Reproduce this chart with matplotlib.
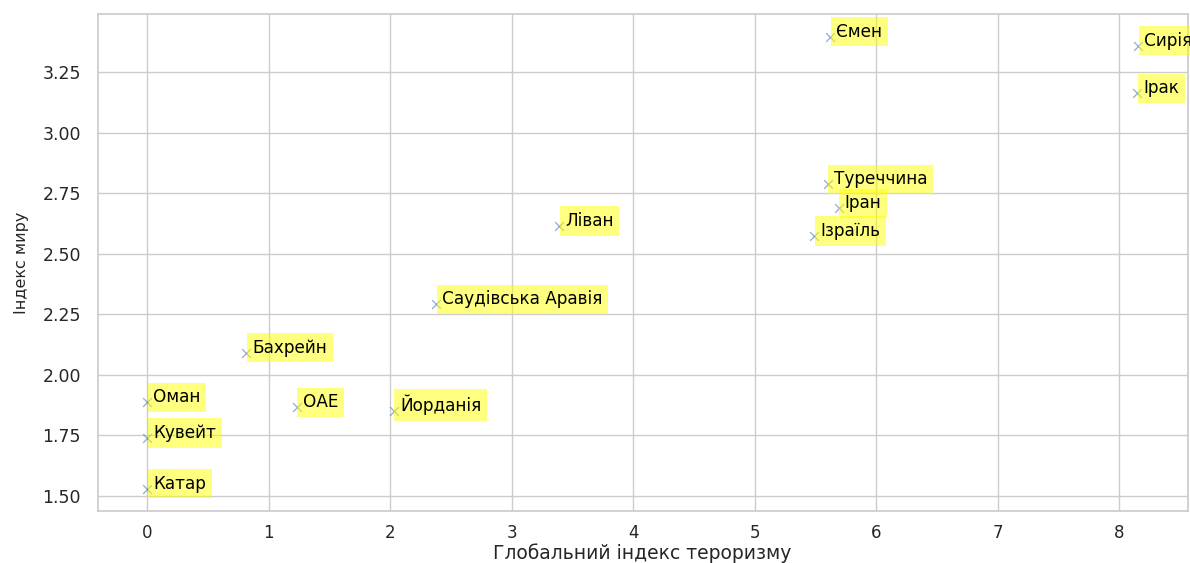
import matplotlib
matplotlib.use("Agg")
import matplotlib.pyplot as plt
import seaborn as sns

countries = ["Ємен", "Сирія", "Ірак", "Туреччина", "Іран", "Ізраїль", "Ліван",
             "Саудівська Аравія", "Бахрейн", "Оман", "ОАЕ", "Йорданія", "Кувейт", "Катар"]
terror_index = [5.62, 8.155, 8.147, 5.60, 5.69, 5.49, 3.39, 2.38, 0.815, 0.0, 1.23, 2.03, 0.0, 0.0]
peace_index = [3.398, 3.361, 3.163, 2.787, 2.688, 2.574, 2.615, 2.291, 2.091, 1.886, 1.865, 1.848, 1.738, 1.529]

sns.set_theme(style="whitegrid")
plt.rcParams['font.family'] = ['DejaVu Sans']

fig, ax = plt.subplots(figsize=(11.9, 5.63), dpi=100)
ax.scatter(terror_index, peace_index, marker='x', s=40, color='#4c72b0', alpha=0.6, linewidths=0.9)
for name, xv, yv in zip(countries, terror_index, peace_index):
    ax.text(xv + 0.05, yv, name, fontsize=12.2, color='black',
            bbox=dict(facecolor='yellow', alpha=0.5, edgecolor='none'))

ax.set_xlabel("Глобальний індекс тероризму", fontsize=13.5, labelpad=1)
ax.set_ylabel("Індекс миру", fontsize=11.5, labelpad=10)
ax.tick_params(axis='y', labelsize=12.5, pad=6)
ax.tick_params(axis='x', labelsize=12, pad=3)
fig.subplots_adjust(left=0.082, right=0.998, top=0.975, bottom=0.092)
fig.savefig("out.png", dpi=100)
